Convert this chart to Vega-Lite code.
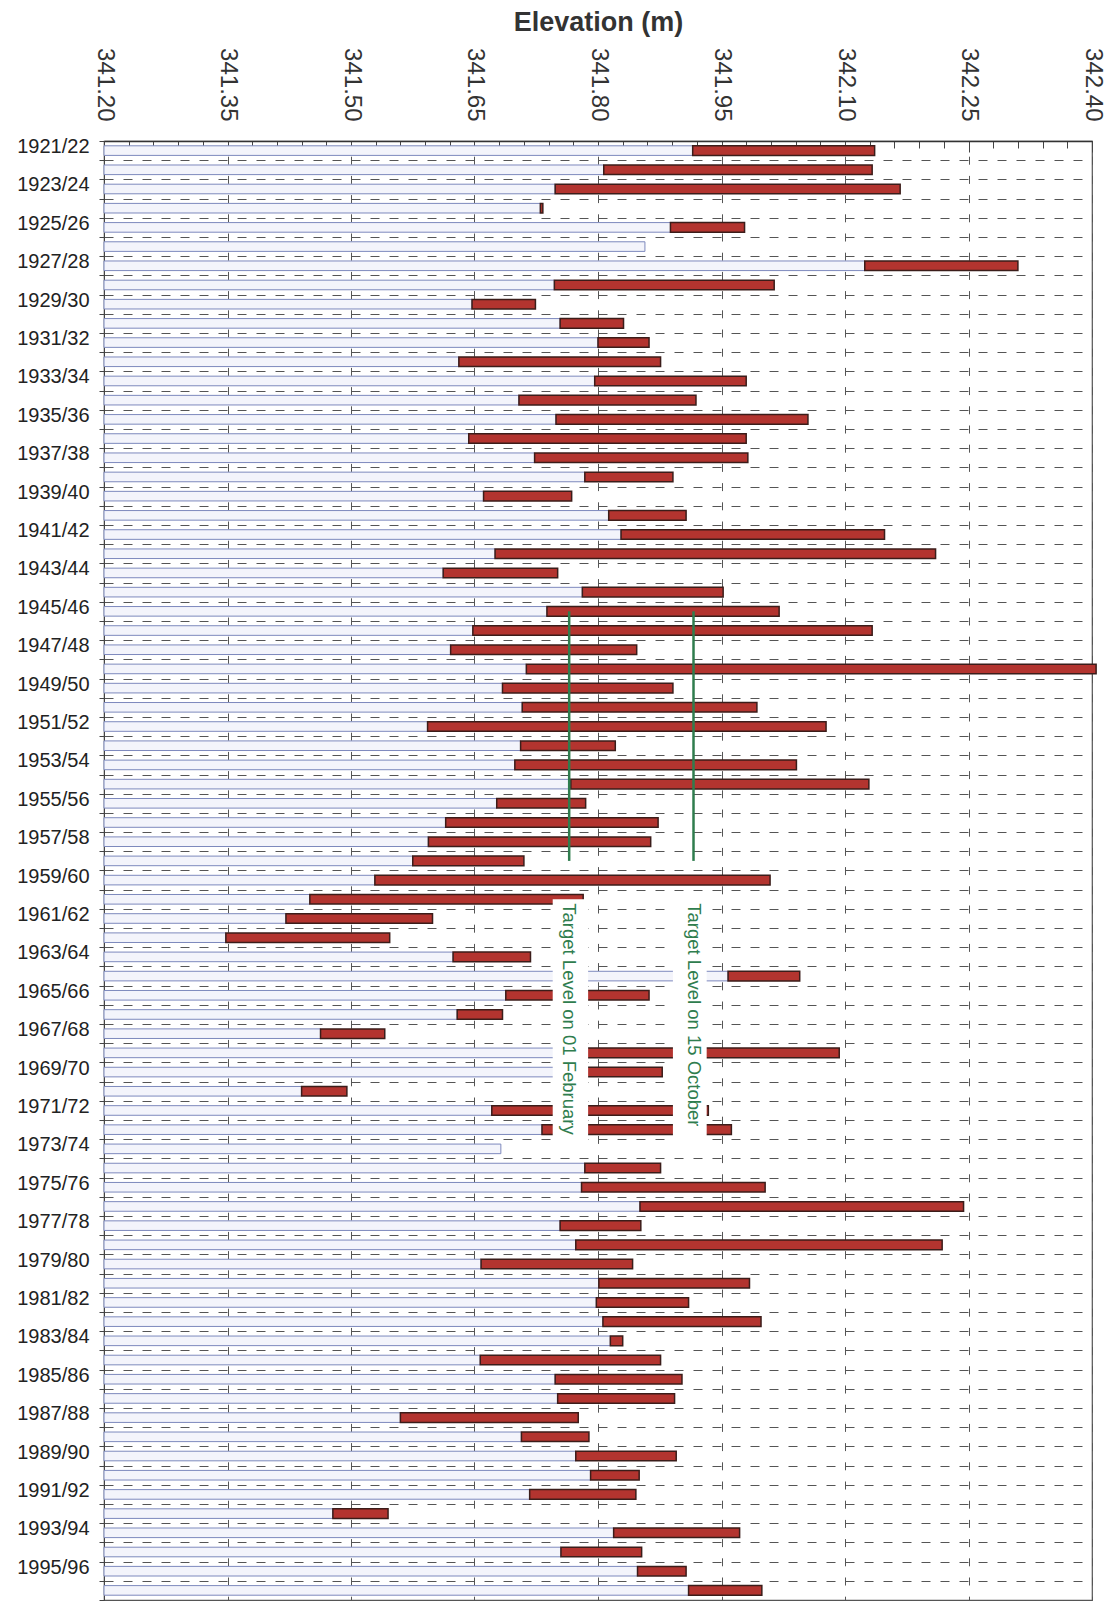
{
  "$schema": "https://vega.github.io/schema/vega-lite/v6.json",
  "width": 988,
  "height": 1459,
  "autosize": "none",
  "padding": {"left": 104, "top": 141, "right": 22, "bottom": 6},
  "background": "white",
  "config": {
    "font": "Liberation Sans",
    "view": {"stroke": "#555", "strokeWidth": 1.2}
  },
  "datasets": {
    "levels": [
      {"year": "1921/22", "low": 341.915, "high": 342.136},
      {"year": "1922/23", "low": 341.807, "high": 342.133},
      {"year": "1923/24", "low": 341.748, "high": 342.167},
      {"year": "1924/25", "low": 341.730, "high": 341.733},
      {"year": "1925/26", "low": 341.888, "high": 341.978},
      {"year": "1926/27", "low": 341.857, "high": null},
      {"year": "1927/28", "low": 342.124, "high": 342.310},
      {"year": "1928/29", "low": 341.747, "high": 342.014},
      {"year": "1929/30", "low": 341.647, "high": 341.724},
      {"year": "1930/31", "low": 341.754, "high": 341.831},
      {"year": "1931/32", "low": 341.800, "high": 341.862},
      {"year": "1932/33", "low": 341.631, "high": 341.876},
      {"year": "1933/34", "low": 341.796, "high": 341.980},
      {"year": "1934/35", "low": 341.704, "high": 341.919},
      {"year": "1935/36", "low": 341.749, "high": 342.055},
      {"year": "1936/37", "low": 341.643, "high": 341.980},
      {"year": "1937/38", "low": 341.723, "high": 341.982},
      {"year": "1938/39", "low": 341.784, "high": 341.891},
      {"year": "1939/40", "low": 341.661, "high": 341.768},
      {"year": "1940/41", "low": 341.813, "high": 341.907},
      {"year": "1941/42", "low": 341.828, "high": 342.148},
      {"year": "1942/43", "low": 341.675, "high": 342.210},
      {"year": "1943/44", "low": 341.612, "high": 341.751},
      {"year": "1944/45", "low": 341.781, "high": 341.952},
      {"year": "1945/46", "low": 341.738, "high": 342.020},
      {"year": "1946/47", "low": 341.648, "high": 342.133},
      {"year": "1947/48", "low": 341.621, "high": 341.847},
      {"year": "1948/49", "low": 341.713, "high": 342.405},
      {"year": "1949/50", "low": 341.684, "high": 341.891},
      {"year": "1950/51", "low": 341.708, "high": 341.993},
      {"year": "1951/52", "low": 341.593, "high": 342.077},
      {"year": "1952/53", "low": 341.706, "high": 341.821},
      {"year": "1953/54", "low": 341.699, "high": 342.041},
      {"year": "1954/55", "low": 341.767, "high": 342.129},
      {"year": "1955/56", "low": 341.677, "high": 341.785},
      {"year": "1956/57", "low": 341.615, "high": 341.873},
      {"year": "1957/58", "low": 341.594, "high": 341.864},
      {"year": "1958/59", "low": 341.575, "high": 341.710},
      {"year": "1959/60", "low": 341.529, "high": 342.009},
      {"year": "1960/61", "low": 341.450, "high": 341.782},
      {"year": "1961/62", "low": 341.421, "high": 341.599},
      {"year": "1962/63", "low": 341.348, "high": 341.547},
      {"year": "1963/64", "low": 341.624, "high": 341.718},
      {"year": "1964/65", "low": 341.958, "high": 342.045},
      {"year": "1965/66", "low": 341.688, "high": 341.862},
      {"year": "1966/67", "low": 341.629, "high": 341.684},
      {"year": "1967/68", "low": 341.463, "high": 341.541},
      {"year": "1968/69", "low": 341.785, "high": 342.093},
      {"year": "1969/70", "low": 341.785, "high": 341.878},
      {"year": "1970/71", "low": 341.440, "high": 341.495},
      {"year": "1971/72", "low": 341.671, "high": 341.934},
      {"year": "1972/73", "low": 341.732, "high": 341.962},
      {"year": "1973/74", "low": 341.682, "high": null},
      {"year": "1974/75", "low": 341.784, "high": 341.876},
      {"year": "1975/76", "low": 341.780, "high": 342.003},
      {"year": "1976/77", "low": 341.851, "high": 342.244},
      {"year": "1977/78", "low": 341.754, "high": 341.852},
      {"year": "1978/79", "low": 341.773, "high": 342.218},
      {"year": "1979/80", "low": 341.658, "high": 341.842},
      {"year": "1980/81", "low": 341.801, "high": 341.984},
      {"year": "1981/82", "low": 341.798, "high": 341.910},
      {"year": "1982/83", "low": 341.806, "high": 341.998},
      {"year": "1983/84", "low": 341.815, "high": 341.830},
      {"year": "1984/85", "low": 341.657, "high": 341.876},
      {"year": "1985/86", "low": 341.748, "high": 341.902},
      {"year": "1986/87", "low": 341.751, "high": 341.893},
      {"year": "1987/88", "low": 341.560, "high": 341.776},
      {"year": "1988/89", "low": 341.707, "high": 341.789},
      {"year": "1989/90", "low": 341.773, "high": 341.895},
      {"year": "1990/91", "low": 341.791, "high": 341.850},
      {"year": "1991/92", "low": 341.717, "high": 341.846},
      {"year": "1992/93", "low": 341.478, "high": 341.545},
      {"year": "1993/94", "low": 341.819, "high": 341.972},
      {"year": "1994/95", "low": 341.755, "high": 341.853},
      {"year": "1995/96", "low": 341.848, "high": 341.907},
      {"year": "1996/97", "low": 341.910, "high": 341.999}
    ],
    "targets": [
      {"target": "Target Level on 01 February", "low": 341.765, "year": "1945/46", "year_end": "1958/59"},
      {"target": "Target Level on 15 October", "low": 341.916, "year": "1945/46", "year_end": "1958/59"}
    ],
    "target_labels": [
      {"target": "Target Level on 01 February", "low": 341.765, "year": "1960/61"},
      {"target": "Target Level on 15 October", "low": 341.916, "year": "1960/61"}
    ],
    "boxes": [
      {"year": "1960/61", "year_end": "1973/74", "low": 341.745, "high": 341.788},
      {"year": "1960/61", "year_end": "1973/74", "low": 341.891, "high": 341.932}
    ]
  },
  "encoding": {
    "y": {
      "field": "year", "type": "ordinal",
      "scale": {"paddingInner": 0, "paddingOuter": 0, "domain": ["1921/22","1922/23","1923/24","1924/25","1925/26","1926/27","1927/28","1928/29","1929/30","1930/31","1931/32","1932/33","1933/34","1934/35","1935/36","1936/37","1937/38","1938/39","1939/40","1940/41","1941/42","1942/43","1943/44","1944/45","1945/46","1946/47","1947/48","1948/49","1949/50","1950/51","1951/52","1952/53","1953/54","1954/55","1955/56","1956/57","1957/58","1958/59","1959/60","1960/61","1961/62","1962/63","1963/64","1964/65","1965/66","1966/67","1967/68","1968/69","1969/70","1970/71","1971/72","1972/73","1973/74","1974/75","1975/76","1976/77","1977/78","1978/79","1979/80","1980/81","1981/82","1982/83","1983/84","1984/85","1985/86","1986/87","1987/88","1988/89","1989/90","1990/91","1991/92","1992/93","1993/94","1994/95","1995/96","1996/97"]},
      "axis": {
        "title": null,
        "orient": "left",
        "labelExpr": "parseInt(substring(datum.value, 0, 4)) % 2 == 1 ? datum.value : ''",
        "labelFontSize": 20,
        "labelColor": "#222",
        "labelPadding": 10,
        "labelOffset": -4,
        "labelOverlap": false,
        "tickBand": "extent",
        "tickSize": 5,
        "tickColor": "#444",
        "domainColor": "#444",
        "grid": true,
        "gridColor": "#555",
        "gridDash": [9, 10],
        "gridWidth": 1
      }
    },
    "x": {
      "field": "low", "type": "quantitative",
      "scale": {"domain": [341.2, 342.4], "nice": false, "zero": false},
      "axis": {
        "orient": "top",
        "title": "Elevation (m)",
        "titleFontSize": 27,
        "titleFontWeight": "bold",
        "titleColor": "#333",
        "titleY": -111,
        "titleBaseline": "alphabetic",
        "values": [341.2, 341.23, 341.26, 341.29, 341.32, 341.35, 341.38, 341.41, 341.44, 341.47, 341.5, 341.53, 341.56, 341.59, 341.62, 341.65, 341.68, 341.71, 341.74, 341.77, 341.8, 341.83, 341.86, 341.89, 341.92, 341.95, 341.98, 342.01, 342.04, 342.07, 342.1, 342.13, 342.16, 342.19, 342.22, 342.25, 342.28, 342.31, 342.34, 342.37, 342.4],
        "format": ".2f",
        "labelExpr": "round((datum.value - 341.2) / 0.03) % 5 == 0 ? datum.label : ''",
        "labelAngle": 90,
        "labelAlign": "right",
        "labelBaseline": "middle",
        "labelFontSize": 24,
        "labelColor": "#333",
        "labelPadding": 31,
        "labelOverlap": false,
        "labelFlush": false,
        "labelBound": false,
        "domainColor": "#333",
        "domainWidth": 1.5,
        "tickColor": "#444",
        "tickWidth": 1,
        "tickSize": {"condition": {"test": "round((datum.value - 341.2) / 0.03) % 5 == 0", "value": -11}, "value": -7},
        "grid": true,
        "gridColor": "#555",
        "gridDash": [8, 11.2],
        "gridDashOffset": 4,
        "gridOpacity": {"condition": {"test": "round((datum.value - 341.2) / 0.03) % 5 == 0", "value": 1}, "value": 0}
      }
    }
  },
  "layer": [
    {
      "data": {"name": "levels"},
      "mark": {"type": "bar", "height": {"band": 0.5}, "fill": "#f3f4fb", "stroke": "#7d89bd", "strokeWidth": 1},
      "encoding": {
        "x2": {"datum": 341.2}
      }
    },
    {
      "data": {"name": "levels"},
      "transform": [{"filter": "datum.high != null"}],
      "mark": {"type": "bar", "height": {"band": 0.5}, "fill": "#b3342f", "stroke": "#3b1d1a", "strokeWidth": 1.5},
      "encoding": {
        "x2": {"field": "high"}
      }
    },
    {
      "data": {"name": "boxes"},
      "mark": {"type": "rect", "fill": "white", "stroke": null},
      "encoding": {
        "y2": {"field": "year_end"},
        "x2": {"field": "high"}
      }
    },
    {
      "data": {"name": "targets"},
      "mark": {"type": "rule", "color": "#2f7d4e", "strokeWidth": 2.5},
      "encoding": {
        "y2": {"field": "year_end"}
      }
    },
    {
      "data": {"name": "target_labels"},
      "mark": {"type": "text", "angle": 90, "align": "left", "baseline": "middle", "fontSize": 18.5, "color": "#2f7d4e", "dx": 4},
      "encoding": {
        "text": {"field": "target"}
      }
    }
  ]
}
